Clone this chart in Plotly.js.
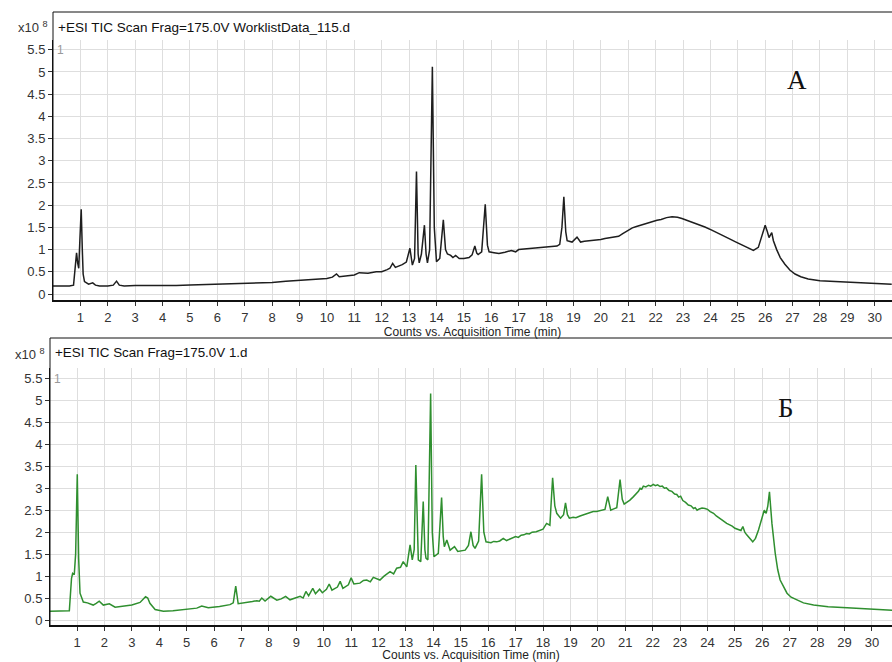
<!DOCTYPE html>
<html>
<head>
<meta charset="utf-8">
<script src="https://cdn.plot.ly/plotly-3.0.1.min.js"></script>
<style>html,body{margin:0;padding:0;background:#fff;}#chart{width:892px;height:662px;}</style>
</head>
<body>
<div id="chart"></div>
<script>
// ---- Data (intensity in units of 10^8 counts) ----
const timeA = [0.0,0.3,0.6,0.75,0.8,0.86,0.9,0.94,0.98,1.03,1.07,1.1,1.15,1.3,1.45,1.55,1.7,2.0,2.2,2.32,2.42,2.6,3.0,3.5,4.0,4.5,5.0,5.5,6.0,6.5,7.0,7.5,8.0,8.5,9.0,9.5,10.0,10.2,10.35,10.45,10.8,11.0,11.18,11.5,11.8,12.0,12.2,12.3,12.4,12.5,12.75,12.9,13.03,13.12,13.2,13.27,13.33,13.37,13.45,13.56,13.62,13.67,13.75,13.85,13.92,14.0,14.12,14.25,14.33,14.4,14.52,14.6,14.7,14.83,15.0,15.19,15.3,15.4,15.47,15.52,15.65,15.78,15.86,15.92,16.1,16.28,16.5,16.73,16.89,17.0,17.5,18.0,18.4,18.5,18.58,18.65,18.72,18.77,18.95,19.13,19.26,19.4,19.6,19.8,20.0,20.15,20.3,20.5,20.65,20.8,21.02,21.15,21.3,21.5,21.7,21.87,22.05,22.2,22.4,22.6,22.8,22.96,23.2,23.5,23.8,24.05,24.3,24.5,24.7,24.9,25.1,25.3,25.45,25.57,25.75,25.9,26.0,26.08,26.14,26.24,26.3,26.42,26.55,26.72,26.9,27.09,27.3,27.57,28.0,28.55,29.2,29.76,30.2,30.62];
const ticA  = [0.18,0.18,0.18,0.2,0.6,0.93,0.7,0.58,1.2,1.91,1.0,0.45,0.28,0.22,0.25,0.2,0.18,0.18,0.2,0.29,0.2,0.18,0.19,0.19,0.18,0.19,0.2,0.21,0.225,0.23,0.24,0.25,0.26,0.29,0.31,0.33,0.35,0.38,0.45,0.39,0.42,0.43,0.48,0.47,0.5,0.5,0.55,0.58,0.69,0.6,0.66,0.72,1.03,0.65,0.8,2.76,0.9,0.7,0.9,1.55,0.9,0.7,1.0,5.12,1.5,0.73,0.8,1.67,1.0,0.9,0.87,0.82,0.87,0.8,0.8,0.82,0.88,1.08,0.92,0.89,0.95,2.02,1.1,0.95,0.93,0.91,0.94,0.98,0.95,1.0,1.03,1.06,1.08,1.12,1.5,2.19,1.4,1.2,1.17,1.28,1.17,1.19,1.2,1.22,1.23,1.25,1.27,1.28,1.3,1.36,1.45,1.49,1.52,1.56,1.6,1.63,1.66,1.68,1.72,1.74,1.73,1.7,1.65,1.58,1.51,1.44,1.37,1.3,1.24,1.18,1.12,1.06,1.01,0.98,1.05,1.35,1.55,1.4,1.27,1.38,1.2,1.0,0.82,0.67,0.54,0.45,0.39,0.34,0.3,0.28,0.26,0.24,0.23,0.22];

const timeB = [0.0,0.4,0.72,0.8,0.84,0.9,0.95,1.01,1.06,1.11,1.23,1.38,1.48,1.59,1.7,1.81,1.96,2.08,2.18,2.39,2.7,3.0,3.3,3.5,3.58,3.66,3.85,4.15,4.5,4.88,5.2,5.37,5.55,5.79,6.2,6.58,6.7,6.79,6.88,7.19,7.4,7.56,7.65,7.74,7.86,8.07,8.29,8.45,8.61,8.77,9.0,9.14,9.25,9.35,9.45,9.6,9.7,9.85,9.95,10.1,10.2,10.3,10.5,10.6,10.7,10.9,11.0,11.1,11.32,11.45,11.57,11.7,11.81,12.05,12.2,12.42,12.55,12.66,12.8,12.9,13.03,13.15,13.23,13.3,13.36,13.42,13.45,13.54,13.63,13.69,13.73,13.8,13.9,13.96,14.02,14.18,14.3,14.36,14.4,14.49,14.61,14.77,14.89,15.16,15.28,15.37,15.45,15.52,15.65,15.76,15.84,15.92,16.1,16.2,16.31,16.42,16.55,16.67,16.8,16.9,17.0,17.1,17.2,17.3,17.4,17.5,17.6,17.75,17.89,18.0,18.13,18.25,18.35,18.43,18.5,18.64,18.75,18.82,18.89,18.96,19.1,19.2,19.35,19.5,19.6,19.7,19.83,19.95,20.1,20.26,20.36,20.47,20.58,20.69,20.81,20.89,20.96,21.06,21.17,21.3,21.4,21.48,21.54,21.6,21.66,21.75,21.85,21.93,22.02,22.1,22.18,22.27,22.35,22.43,22.5,22.6,22.7,22.8,22.88,22.95,23.02,23.1,23.2,23.3,23.4,23.49,23.55,23.62,23.7,23.8,23.91,24.0,24.1,24.22,24.32,24.45,24.55,24.7,24.8,24.9,25.0,25.13,25.22,25.29,25.36,25.43,25.55,25.65,25.75,25.86,26.0,26.07,26.14,26.2,26.26,26.3,26.35,26.47,26.56,26.65,26.78,26.9,27.05,27.26,27.5,27.87,28.4,29.09,29.8,30.74];
const ticB  = [0.2,0.2,0.21,0.95,1.06,1.03,1.5,3.32,1.4,0.61,0.41,0.39,0.36,0.34,0.38,0.43,0.34,0.35,0.37,0.29,0.31,0.34,0.4,0.53,0.5,0.38,0.24,0.2,0.21,0.23,0.25,0.27,0.32,0.28,0.31,0.35,0.39,0.77,0.37,0.39,0.42,0.44,0.43,0.5,0.43,0.54,0.45,0.48,0.54,0.46,0.52,0.54,0.5,0.65,0.55,0.72,0.6,0.7,0.62,0.7,0.82,0.68,0.75,0.88,0.72,0.8,0.96,0.82,0.84,0.9,0.91,0.87,0.97,0.91,1.0,1.1,1.05,1.18,1.2,1.33,1.21,1.71,1.37,1.6,3.53,1.6,1.37,1.33,2.7,1.6,1.41,1.37,5.16,2.0,1.44,1.52,2.79,1.9,1.67,1.82,1.59,1.67,1.56,1.59,1.7,2.01,1.7,1.63,1.8,3.32,2.0,1.78,1.76,1.79,1.78,1.8,1.86,1.81,1.85,1.87,1.9,1.88,1.93,1.94,1.97,1.96,2.0,2.01,2.05,2.07,2.2,2.16,3.24,2.6,2.43,2.32,2.4,2.67,2.4,2.32,2.34,2.33,2.37,2.4,2.41,2.44,2.47,2.47,2.5,2.52,2.81,2.5,2.53,2.56,3.2,2.75,2.64,2.68,2.73,2.81,2.88,2.93,3.0,2.98,3.05,3.03,3.07,3.05,3.09,3.06,3.08,3.04,3.05,3.0,3.01,2.95,2.93,2.87,2.86,2.8,2.82,2.72,2.68,2.62,2.6,2.54,2.56,2.5,2.53,2.55,2.54,2.52,2.47,2.43,2.37,2.32,2.27,2.2,2.17,2.14,2.09,2.05,2.04,2.13,2.0,1.94,1.84,1.78,1.86,2.05,2.35,2.5,2.43,2.6,2.92,2.6,2.2,1.52,1.15,0.91,0.74,0.61,0.52,0.46,0.39,0.34,0.3,0.28,0.25,0.22];

const xTickVals = [1,2,3,4,5,6,7,8,9,10,11,12,13,14,15,16,17,18,19,20,21,22,23,24,25,26,27,28,29,30];
const yTickVals = [0,0.5,1,1.5,2,2.5,3,3.5,4,4.5,5,5.5];
const yTickText = ['0','0.5','1','1.5','2','2.5','3','3.5','4','4.5','5','5.5'];
const headerA = '+ESI TIC Scan Frag=175.0V WorklistData_115.d';
const headerB = '+ESI TIC Scan Frag=175.0V 1.d';
const xTitle = 'Counts vs. Acquisition Time (min)';
const panelA = 'А';
const panelB = 'Б';

// ---- Plot ----
const FONT = '"Liberation Sans", Arial, sans-serif';
const traces = [
  {x: timeA, y: ticA, xaxis: 'x', yaxis: 'y', type: 'scatter', mode: 'lines',
   line: {color: '#1e1e1e', width: 1.5}, hoverinfo: 'x+y'},
  {x: timeB, y: ticB, xaxis: 'x2', yaxis: 'y2', type: 'scatter', mode: 'lines',
   line: {color: '#2f8f2f', width: 1.5}, hoverinfo: 'x+y'}
];

function xAx(domain, range, anchor) {
  return {domain: domain, range: range, anchor: anchor, tickmode: 'array', tickvals: xTickVals,
    ticks: 'outside', ticklen: 4, tickcolor: '#333', showline: true, linewidth: 2, linecolor: '#111',
    showgrid: true, gridcolor: '#dedede', gridwidth: 1, zeroline: false,
    tickfont: {family: FONT, size: 13, color: '#333'},
    title: {text: xTitle, font: {family: FONT, size: 12, color: '#222'}, standoff: 0}};
}
function yAx(domain, range, anchor) {
  return {domain: domain, range: range, anchor: anchor, tickmode: 'array', tickvals: yTickVals, ticktext: yTickText,
    ticks: 'outside', ticklen: 4, tickcolor: '#333', showline: true, linewidth: 1, linecolor: '#111',
    showgrid: true, gridcolor: '#dedede', gridwidth: 1, zeroline: false,
    tickfont: {family: FONT, size: 13, color: '#333'}};
}

const W = 842, H = 662, L = 50;
const px = v => (v - L) / W;
const py = v => 1 - v / H;

const layout = {
  width: 892, height: 662, margin: {l: L, r: 0, t: 0, b: 0},
  paper_bgcolor: '#fff', plot_bgcolor: '#fff', showlegend: false,
  font: {family: FONT},
  xaxis: xAx([px(53), 1], [0.0, 30.63], 'y'),
  yaxis: yAx([py(300), py(40)], [-0.135, 5.72], 'x'),
  xaxis2: xAx([0, 1], [0.015, 30.73], 'y2'),
  yaxis2: yAx([py(625), py(368)], [-0.114, 5.74], 'x2'),
  shapes: [
    {type: 'line', xref: 'paper', yref: 'paper', x0: px(53), x1: 1, y0: py(12), y1: py(12), line: {color: '#111', width: 1}},
    {type: 'line', xref: 'paper', yref: 'paper', x0: px(53), x1: px(53), y0: py(12), y1: py(300), line: {color: '#111', width: 1}},
    {type: 'line', xref: 'paper', yref: 'paper', x0: px(50), x1: 1, y0: py(338), y1: py(338), line: {color: '#111', width: 1}},
    {type: 'line', xref: 'paper', yref: 'paper', x0: px(50), x1: px(50), y0: py(338), y1: py(625), line: {color: '#111', width: 1}}
  ],
  annotations: [
    {text: headerA, xref: 'paper', yref: 'paper', x: px(56), y: py(27), xanchor: 'left', yanchor: 'middle', showarrow: false, font: {family: FONT, size: 13.5, color: '#111'}},
    {text: headerB, xref: 'paper', yref: 'paper', x: px(53), y: py(353), xanchor: 'left', yanchor: 'middle', showarrow: false, font: {family: FONT, size: 13.4, color: '#111'}},
    {text: 'x10 <sup>8</sup>', xref: 'paper', yref: 'paper', x: px(50), y: py(27), xanchor: 'right', yanchor: 'middle', showarrow: false, font: {family: FONT, size: 13, color: '#333'}},
    {text: 'x10 <sup>8</sup>', xref: 'paper', yref: 'paper', x: px(47), y: py(354), xanchor: 'right', yanchor: 'middle', showarrow: false, font: {family: FONT, size: 13, color: '#333'}},
    {text: '1', xref: 'paper', yref: 'paper', x: px(55), y: py(50), xanchor: 'left', yanchor: 'middle', showarrow: false, font: {family: FONT, size: 12, color: '#999'}},
    {text: '1', xref: 'paper', yref: 'paper', x: px(52), y: py(379), xanchor: 'left', yanchor: 'middle', showarrow: false, font: {family: FONT, size: 12, color: '#999'}},
    {text: panelA, xref: 'paper', yref: 'paper', x: px(797), y: py(80), xanchor: 'center', yanchor: 'middle', showarrow: false, font: {family: '"Liberation Serif", "DejaVu Serif", serif', size: 27, color: '#111'}},
    {text: panelB, xref: 'paper', yref: 'paper', x: px(786), y: py(408), xanchor: 'center', yanchor: 'middle', showarrow: false, font: {family: '"Liberation Serif", "DejaVu Serif", serif', size: 27, color: '#111'}}
  ]
};

Plotly.newPlot('chart', traces, layout, {displayModeBar: false, staticPlot: true});
</script>
</body>
</html>
